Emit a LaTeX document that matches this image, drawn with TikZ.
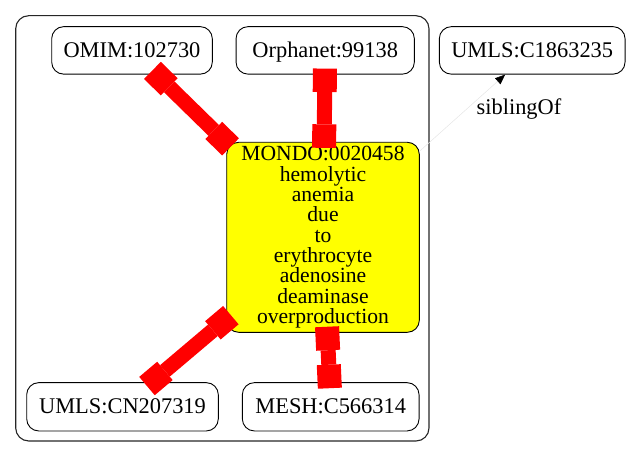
\documentclass[tikz,border=0pt]{standalone}
\usepackage{fontspec}
\setmainfont{Liberation Serif}
\usetikzlibrary{arrows.meta}
\definecolor{nodeyellow}{RGB}{255,255,0}
\definecolor{xrefred}{RGB}{255,0,0}
\newcommand{\tightlines}{\fontsize{21.6}{20.3}\selectfont\lineskiplimit-50pt\relax}
\begin{document}
\begin{tikzpicture}[x=1pt,y=-1pt,
  lbl/.style={font=\fontsize{22.4}{20}\selectfont, text height=13.5pt, text depth=0pt, inner sep=0pt},
  idbox/.style={lbl, draw=black, line width=0.9pt, rounded corners=12pt, minimum height=47.5pt},
  mainbox/.style={draw=black, line width=0.9pt, rounded corners=12pt, fill=nodeyellow, inner sep=0pt,
    align=center, font=\tightlines},
  clusterbox/.style={draw=black!85, line width=1.1pt, rounded corners=13pt, inner sep=0pt},
  xref/.style={draw=xrefred, color=xrefred, line width=15pt,
    {Square[length=23.5pt,width=24pt,line width=0pt]}-{Square[length=23.5pt,width=24pt,line width=0pt]},
    shorten <=-6pt, shorten >=-6pt},
  sib/.style={draw=black!10, line width=0.5pt, -{Triangle[length=10pt,width=8pt,color=black]}}
]
\useasboundingbox (0,0) rectangle (632,457);
\node[clusterbox, minimum width=413.3pt, minimum height=425.3pt] (cluster) at (222.35,228.35) {};
\node[idbox, minimum width=160.6pt] (omim) at (132,50.4) {OMIM:102730};
\node[idbox, minimum width=178.3pt] (orpha) at (325.2,50.4) {Orphanet:99138};
\node[idbox, minimum width=185.7pt] (umlsc) at (532.2,50.4) {UMLS:C1863235};
\node[mainbox, minimum width=192.6pt, minimum height=190pt] (mondo) at (323,237.3)
  {MONDO:0020458\\hemolytic\\anemia\\due\\to\\erythrocyte\\adenosine\\deaminase\\overproduction};
\node[idbox, minimum width=191.6pt, minimum height=48.3pt] (umlscn) at (122.5,406.8) {UMLS:CN207319};
\node[idbox, minimum width=176.7pt, minimum height=48.3pt] (mesh) at (330.7,406.8) {MESH:C566314};
\draw[xref] (omim) -- (mondo);
\draw[xref] (orpha) -- (mondo);
\draw[xref] (mondo) -- (umlscn);
\draw[xref] (mondo) -- (mesh);
\draw[sib] (mondo) -- (umlsc);
\node[lbl] (siblbl) at (519,108) {siblingOf};
\end{tikzpicture}
\end{document}
